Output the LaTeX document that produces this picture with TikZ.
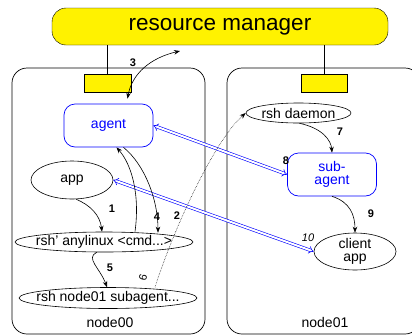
\documentclass[tikz,border=0pt]{standalone}
\usepackage{fontspec}
\setmainfont{Liberation Sans}
\usetikzlibrary{arrows.meta,shapes.geometric}
\begin{document}
\begin{tikzpicture}[x=1pt,y=-1pt,
  every node/.style={font=\fontsize{14}{15}\selectfont},
  yel/.style={draw, fill=yellow, inner sep=0pt},
  hostbox/.style={draw, rounded corners=15pt, minimum width=193pt, minimum height=266pt, inner sep=0pt, line width=0.7pt},
  bluebox/.style={draw=blue, text=blue, rounded corners=11pt, minimum width=89pt, minimum height=43pt, inner sep=0pt, align=center, line width=0.7pt},
  ell/.style={draw, ellipse, inner sep=0pt, line width=0.6pt},
  arr/.style={-{Stealth[length=6pt,width=4.5pt]}, line width=0.6pt},
  dbl/.style={draw=blue, double=white, double distance=2pt, line width=0.6pt, {Implies[length=4pt]}-{Implies[length=4pt]}},
  num/.style={font=\fontsize{11}{12}\selectfont\bfseries, inner sep=0pt}
]
\useasboundingbox (0,0) rectangle (412,335);
% hosts
\node[hostbox] (n0) at (108.5,201) {};
\node[hostbox] (n1) at (323.5,201) {};
% resource manager
\node[yel, rounded corners=14pt, minimum width=336pt, minimum height=37pt, font=\fontsize{22.5}{24}\selectfont] (rm) at (220,26.5) {resource manager};
\node[yel, minimum width=47pt, minimum height=18pt] (lb) at (107.5,83) {};
\node[yel, minimum width=46pt, minimum height=18pt] (rb) at (324,83) {};
\draw[line width=0.6pt] (lb.north |- rm.south) -- (lb.north);
\draw[line width=0.6pt] (rb.north |- rm.south) -- (rb.north);
% host labels
\node (l0) at (110,322) {node00};
\node (l1) at (325,322) {node01};
% nodes
\node[bluebox] (agent) at (108.5,125.5) {agent};
\node[bluebox] (sub) at (332,174.5) {sub-\\[-2pt]agent};
\node[ell, minimum width=82pt, minimum height=38pt] (app) at (72,180) {app};
\node[ell, minimum width=178pt, minimum height=20pt, label={center:rsh' anylinux <cmd...>}] (rsh1) at (104,242) {};
\node[ell, minimum width=178pt, minimum height=21pt, label={center:rsh node01 subagent...}] (rsh2) at (108,298) {};
\node[ell, minimum width=105pt, minimum height=20pt, label={center:rsh daemon}] (daemon) at (298.5,113) {};
\node[ell, minimum width=82pt, minimum height=37pt, align=center] (client) at (355,251.5) {client\\[-2pt]app};
% free end
\coordinate (rmend) at (180,51);
% connectors
\draw[arr, {Stealth[length=6pt,width=4.5pt]}-{Stealth[length=6pt,width=4.5pt]}] ([shift={(19,-5)}]agent.north) .. controls (132,74) and (150,58) .. (rmend);
\draw[dbl] (agent.east) -- (sub.west);
\draw[dbl] (app.east) -- (client.west);
\draw[arr] (app.-78) .. controls (90,205) and (100,215) .. ([xshift=-2pt]rsh1.north);
\draw[arr] ([xshift=31pt]rsh1.north) .. controls (140,195) and (132,165) .. ([xshift=8pt]agent.south);
\draw[arr] ([xshift=15pt]agent.south) .. controls (145,165) and (158,200) .. ([xshift=54pt,yshift=-1pt]rsh1.north);
\draw[arr] (rsh1.-125) .. controls (85,258) and (100,268) .. ([xshift=-1pt]rsh2.north);
\draw[arr, densely dotted, line width=0.5pt] ([xshift=47pt]rsh2.north) .. controls (175,225) and (215,140) .. (daemon.west);
\draw[arr] (daemon.-85) .. controls (322,128) and (331,140) .. (sub.north);
\draw[arr] (sub.south) .. controls (350,202) and (355,215) .. (client.north);
% step numbers
\node[num] (s3) at (133,63) {3};
\node[num] (s1) at (112,209) {1};
\node[num] (s4) at (157,217) {4};
\node[num] (s2) at (177,216) {2};
\node[num] (s5) at (110,268) {5};
\node[num, font=\fontsize{11}{12}\selectfont, rotate=75] (s6) at (143,278) {6};
\node[num] (s7) at (340,132) {7};
\node[num] (s8) at (286,161) {8};
\node[num] (s9) at (371,214) {9};
\node[num, font=\fontsize{11}{12}\selectfont\itshape] (s10) at (308,238) {10};
\end{tikzpicture}
\end{document}
